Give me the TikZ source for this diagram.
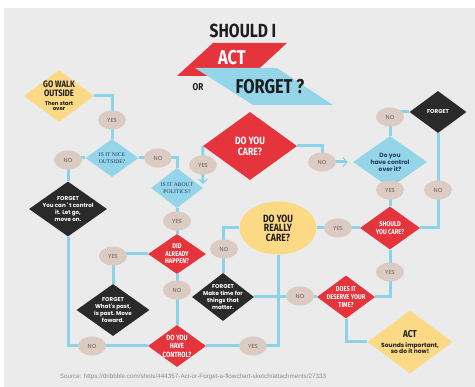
\documentclass[tikz,border=0pt]{standalone}
\usepackage{fontspec}
\usetikzlibrary{arrows.meta,positioning,calc,shapes.geometric}
\newfontfamily\headfont[FakeStretch=0.82]{Fira Sans}
\newfontfamily\bodyfont{Poppins}
\newfontfamily\capsfont{Liberation Serif}
\newfontfamily\notefont{Liberation Sans}
\newcommand{\smallbody}{\bodyfont\bfseries\fontsize{5.4}{5.4}\selectfont}
\newcommand{\actbody}{\bodyfont\bfseries\fontsize{6}{6}\selectfont}
\definecolor{bg}{HTML}{EBEBEB}
\definecolor{flowred}{HTML}{E6343D}
\definecolor{flowcyan}{HTML}{95D5EA}
\definecolor{flowyellow}{HTML}{FCD985}
\definecolor{flowblack}{HTML}{2A2A2A}
\definecolor{tag}{HTML}{DCCBC2}
\definecolor{tagtext}{HTML}{6B6059}
\definecolor{line}{HTML}{8CD2E8}
\definecolor{navy}{HTML}{22395A}
\definecolor{ink}{HTML}{1E1E1E}
\definecolor{note}{HTML}{8C8C8C}
\pgfdeclarelayer{back}\pgfdeclarelayer{wires}\pgfsetlayers{back,wires,main}
\tikzset{flowdiamond/.style={diamond,inner sep=-15pt,align=center},
 dsize/.style 2 args={minimum width=#1pt,minimum height=#2pt},
 redbox/.style={flowdiamond,fill=flowred,text=white,font=\headfont\bfseries\fontsize{7}{7.6}\selectfont},
 cyanbox/.style={flowdiamond,fill=flowcyan,text=navy,font=\capsfont\fontsize{5.6}{7.4}\selectfont},
 blackbox/.style={flowdiamond,fill=flowblack,text=white,font=\bodyfont\bfseries\fontsize{5.6}{6.8}\selectfont},
 yellowbox/.style={flowdiamond,fill=flowyellow,text=ink},
 flowtag/.style={ellipse,fill=tag,text=tagtext,inner sep=0pt,minimum width=28pt,minimum height=19pt,
 font=\bodyfont\fontsize{5.8}{6}\selectfont},
 flowline/.style={draw=line,line width=3pt},
 flowarrow/.style={flowline,-{Straight Barb[length=4pt,width=9pt,line width=1.2pt]}}}
\begin{document}
\begin{tikzpicture}[x=1pt,y=-1pt]
\useasboundingbox (0,0) rectangle (475,387);
\begin{pgfonlayer}{back}
\fill[bg] (4,8) rectangle (475,387);
\end{pgfonlayer}
% heading
\node[font=\headfont\bfseries\fontsize{19}{19}\selectfont,text=ink] (title) at (243,31) {SHOULD I};
\fill[flowred] (213,43) -- (287,43) -- (251,76) -- (177,76) -- cycle;
\fill[flowcyan] (195,68) -- (277,68) -- (333,105) -- (253,105) -- cycle;
\node[font=\headfont\bfseries\fontsize{20}{20}\selectfont,text=white] (actword) at (232,58) {ACT};
\node[font=\headfont\bfseries\fontsize{10}{10}\selectfont,text=ink] (orword) at (198,87) {OR};
\node[font=\headfont\bfseries\fontsize{20}{20}\selectfont,text=ink] (forgetword) at (270,87) {FORGET ?};
% decisions
\node[yellowbox,dsize={70}{52},font=\headfont\bfseries\fontsize{9.3}{8.4}\selectfont] (walk) at (59,96) {GO WALK\\OUTSIDE\\[0.5pt]\smallbody Then start\\[-2.8pt]\smallbody over};
\node[cyanbox,dsize={53}{38}] (nice) at (112,158) {IS IT NICE\\OUTSIDE?};
\node[blackbox,dsize={78}{55}] (forget1) at (68,209) {FORGET\\You can ' t control\\it. Let go,\\move on.};
\node[cyanbox,dsize={52}{40}] (politics) at (177,188) {IS IT ABOUT\\POLITICS?};
\node[redbox,dsize={94}{68},font=\headfont\bfseries\fontsize{10.5}{11}\selectfont] (care) at (250,146) {DO YOU\\CARE?};
\node[redbox,dsize={58}{40}] (did) at (177,254) {DID\\ALREADY\\HAPPEN?};
\node[blackbox,dsize={73}{52}] (forget2) at (113,310) {FORGET\\What's past,\\is past. Move\\foward.};
\node[redbox,dsize={58}{42},font=\headfont\bfseries\fontsize{7.5}{8.5}\selectfont] (havecontrol) at (177,346) {DO YOU\\HAVE\\CONTROL?};
\node[ellipse,fill=flowyellow,text=ink,inner sep=0pt,minimum width=77pt,minimum height=53pt,align=center,
 font=\headfont\bfseries\fontsize{10.5}{9.6}\selectfont] (really) at (278,228) {DO YOU\\REALLY\\CARE?};
\node[blackbox,dsize={62}{48}] (forget3) at (223,297) {FORGET\\Make time for\\things that\\matter.};
\node[redbox,dsize={58}{43}] (deserve) at (346,297) {DOES IT\\DESERVE YOUR\\TIME?};
\node[redbox,dsize={60}{43}] (should) at (390,228) {SHOULD\\YOU CARE?};
\node[cyanbox,dsize={74}{52},font=\bodyfont\bfseries\fontsize{6}{7}\selectfont] (control) at (390,162) {Do you\\have control\\over it?};
\node[blackbox,dsize={57}{42}] (forget4) at (438,112) {FORGET};
\node[yellowbox,dsize={85}{63},font=\headfont\bfseries\fontsize{10}{10}\selectfont] (act) at (410,342) {ACT\\\actbody Sounds important,\\[-4pt]\actbody so do it now!};
\coordinate (caretip) at (203,184);
% answers
\node[flowtag] (yes1) at (112,120) {YES};
\node[flowtag] (no1) at (68,160) {NO};
\node[flowtag] (no2) at (158,158) {NO};
\node[flowtag] (yes2) at (203,165) {YES};
\node[flowtag] (yes3) at (177,221) {YES};
\node[flowtag] (yes4) at (113,256) {YES};
\node[flowtag] (no4) at (177,290) {NO};
\node[flowtag] (no5) at (92,346) {NO};
\node[flowtag] (yes5) at (253,346) {YES};
\node[flowtag] (no6) at (224,249) {NO};
\node[flowtag] (no7) at (300,296) {NO};
\node[flowtag] (yes6) at (338,228) {YES};
\node[flowtag] (yes7) at (390,190) {YES};
\node[flowtag] (yes8) at (390,272) {YES};
\node[flowtag] (no3) at (390,117) {NO};
\node[flowtag] (no9) at (438,190) {NO};
\node[flowtag] (no8) at (322,162) {NO};
\node[font=\notefont\fontsize{6.3}{7}\selectfont,text=note] (source) at (193,377) {Source: https://dribbble.com/shots/444357-Act-or-Forget-a-flowchart-sketch/attachments/27333};
% connectors
\begin{pgfonlayer}{wires}
\draw[flowline] (walk) -| (nice);
\draw[flowline] (nice) -| (forget1);
\draw[flowline] (forget1) |- (havecontrol);
\draw[flowline] (nice) -| (politics);
\draw[flowarrow] (care.west) -- (caretip);
\draw[flowline] (politics) -- (did);
\draw[flowline] (did) -| (forget2);
\draw[flowline] (did) -- (havecontrol);
\draw[flowline] (havecontrol) -| (really);
\draw[flowline] (really) -| (forget3);
\draw[flowline] (forget3) -- (deserve);
\draw[flowline] (deserve) -| (should);
\draw[flowline] (deserve) |- (act);
\draw[flowline] (really) -- (should);
\draw[flowline] (should) -- (control);
\draw[flowline] (control) |- (forget4);
\draw[flowline] (forget4) |- (should);
\draw[flowarrow,shorten >=5pt] (care) -| (no8.center) -- (control);
\end{pgfonlayer}
\end{tikzpicture}
\end{document}
